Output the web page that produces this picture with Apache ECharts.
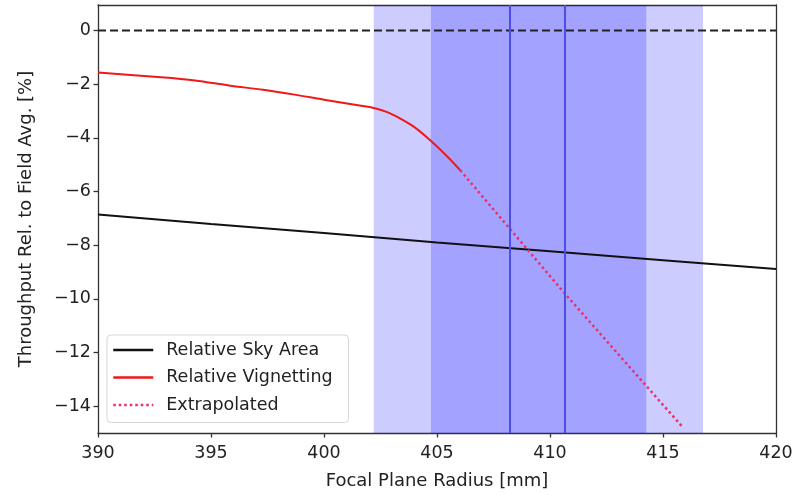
<!DOCTYPE html>
<html>
<head>
<meta charset="utf-8">
<script src="https://cdn.jsdelivr.net/npm/echarts@6/dist/echarts.min.js"></script>
<style>
html,body{margin:0;padding:0;background:#fff;}
#chart{width:807px;height:495px;}
</style>
</head>
<body>
<div id="chart"></div>
<script>
// ---- data ----
const xTicks = [390, 395, 400, 405, 410, 415, 420];
const yTicks = [0, -2, -4, -6, -8, -10, -12, -14];

const skyAreaX = [390, 395, 400, 405, 410, 415, 420];
const skyAreaY = [-6.86, -7.21, -7.55, -7.90, -8.23, -8.56, -8.89];

const vignetX = [390, 392.8, 394.3, 395.8, 397.3, 398.7, 400.0, 401.5, 402.2, 402.8, 403.4, 404.0, 404.7, 405.4, 406.03];
const vignetY = [-1.57, -1.74, -1.86, -2.05, -2.21, -2.39, -2.58, -2.79, -2.89, -3.04, -3.29, -3.60, -4.09, -4.65, -5.21];

const extrapX = [406.03, 410.6, 415.91];
const extrapY = [-5.21, -9.75, -14.82];

const zeroX = [390, 420];
const zeroY = [0, 0];

const bandOuter = [402.2, 416.77];
const bandInner = [404.73, 414.26];
const vLines = [408.2, 410.65];

const seriesNames = ['Relative Sky Area', 'Relative Vignetting', 'Extrapolated'];

// ---- build ----
const zip = (xs, ys) => xs.map((x, i) => [x, ys[i]]);
const fmt = v => (v < 0 ? '\u2212' + Math.abs(v) : String(v));
const FONT = 'DejaVu Sans';

const chart = echarts.init(document.getElementById('chart'), null, {renderer: 'canvas'});

const axisLineStyle = {color: '#333', width: 1.3};

chart.setOption({
  animation: false,
  backgroundColor: '#fff',
  textStyle: {fontFamily: FONT},
  grid: {left: 98, right: 31, top: 5, bottom: 62},
  legend: {
    orient: 'vertical',
    left: 107, top: 335,
    data: seriesNames,
    itemWidth: 40, itemHeight: 14,
    itemGap: 6.5,
    padding: [4.5, 16, 7, 5],
    borderColor: '#d6d6d6', borderWidth: 1, borderRadius: 4,
    backgroundColor: 'rgba(255,255,255,0.8)',
    itemStyle: {opacity: 0},
    lineStyle: {width: 2.5},
    textStyle: {fontFamily: FONT, fontSize: 17.5, color: '#222', lineHeight: 21, padding: [0, 0, 0, 8]}
  },
  xAxis: [{
    type: 'value', min: 390, max: 420, interval: 5,
    name: 'Focal Plane Radius [mm]', nameLocation: 'middle', nameGap: 39,
    nameTextStyle: {fontFamily: FONT, fontSize: 18, color: '#222'},
    axisLine: {show: true, onZero: false, lineStyle: axisLineStyle},
    axisTick: {show: true, inside: false, length: 4.5, lineStyle: axisLineStyle},
    axisLabel: {show: true, fontSize: 17.5, color: '#222', margin: 11, formatter: v => fmt(v)},
    splitLine: {show: false}
  }, {
    type: 'value', min: 390, max: 420, position: 'top',
    axisLine: {show: true, onZero: false, lineStyle: axisLineStyle},
    axisTick: {show: false}, axisLabel: {show: false}, splitLine: {show: false}
  }],
  yAxis: [{
    type: 'value', min: -15, max: 0.95,
    name: 'Throughput Rel. to Field Avg. [%]', nameLocation: 'middle', nameGap: 63,
    nameTextStyle: {fontFamily: FONT, fontSize: 18, color: '#222'},
    axisLine: {show: true, onZero: false, lineStyle: axisLineStyle},
    axisTick: {show: true, inside: false, length: 4.5, lineStyle: axisLineStyle, customValues: yTicks},
    axisLabel: {show: true, fontSize: 17.5, color: '#222', margin: 7, customValues: yTicks, formatter: v => fmt(v)},
    splitLine: {show: false}
  }, {
    type: 'value', min: -15, max: 0.95, position: 'right',
    axisLine: {show: true, onZero: false, lineStyle: axisLineStyle},
    axisTick: {show: false}, axisLabel: {show: false}, splitLine: {show: false}
  }],
  series: [
    {
      name: 'bands', type: 'line', z: 1, silent: true,
      data: zip(zeroX, zeroY), showSymbol: false, symbol: 'none',
      lineStyle: {width: 0, opacity: 0},
      markArea: {
        silent: true,
        itemStyle: {color: 'rgba(0,0,255,0.2)'},
        data: [
          [{xAxis: bandOuter[0]}, {xAxis: bandOuter[1]}],
          [{xAxis: bandInner[0]}, {xAxis: bandInner[1]}]
        ]
      },
      markLine: {
        silent: true, symbol: 'none', label: {show: false},
        lineStyle: {type: 'solid', color: '#4d4de3', width: 2},
        data: vLines.map(v => ({xAxis: v}))
      }
    },
    {
      name: 'zero', type: 'line', z: 3, data: zip(zeroX, zeroY),
      showSymbol: false, symbol: 'none',
      lineStyle: {color: '#222', width: 2, type: [8, 4]}
    },
    {
      name: seriesNames[0], type: 'line', z: 4, data: zip(skyAreaX, skyAreaY),
      showSymbol: false, symbol: 'none', itemStyle: {color: '#111'},
      lineStyle: {color: '#111', width: 2}
    },
    {
      name: seriesNames[1], type: 'line', z: 4, data: zip(vignetX, vignetY),
      showSymbol: false, symbol: 'none', smooth: 0.3, itemStyle: {color: '#f01818'},
      lineStyle: {color: '#f01818', width: 2}
    },
    {
      name: seriesNames[2], type: 'line', z: 4, data: zip(extrapX, extrapY),
      showSymbol: false, symbol: 'none', itemStyle: {color: '#e8306a'},
      lineStyle: {color: '#e8306a', width: 2.5, type: [2.5, 3]}
    }
  ]
});
</script>
</body>
</html>
